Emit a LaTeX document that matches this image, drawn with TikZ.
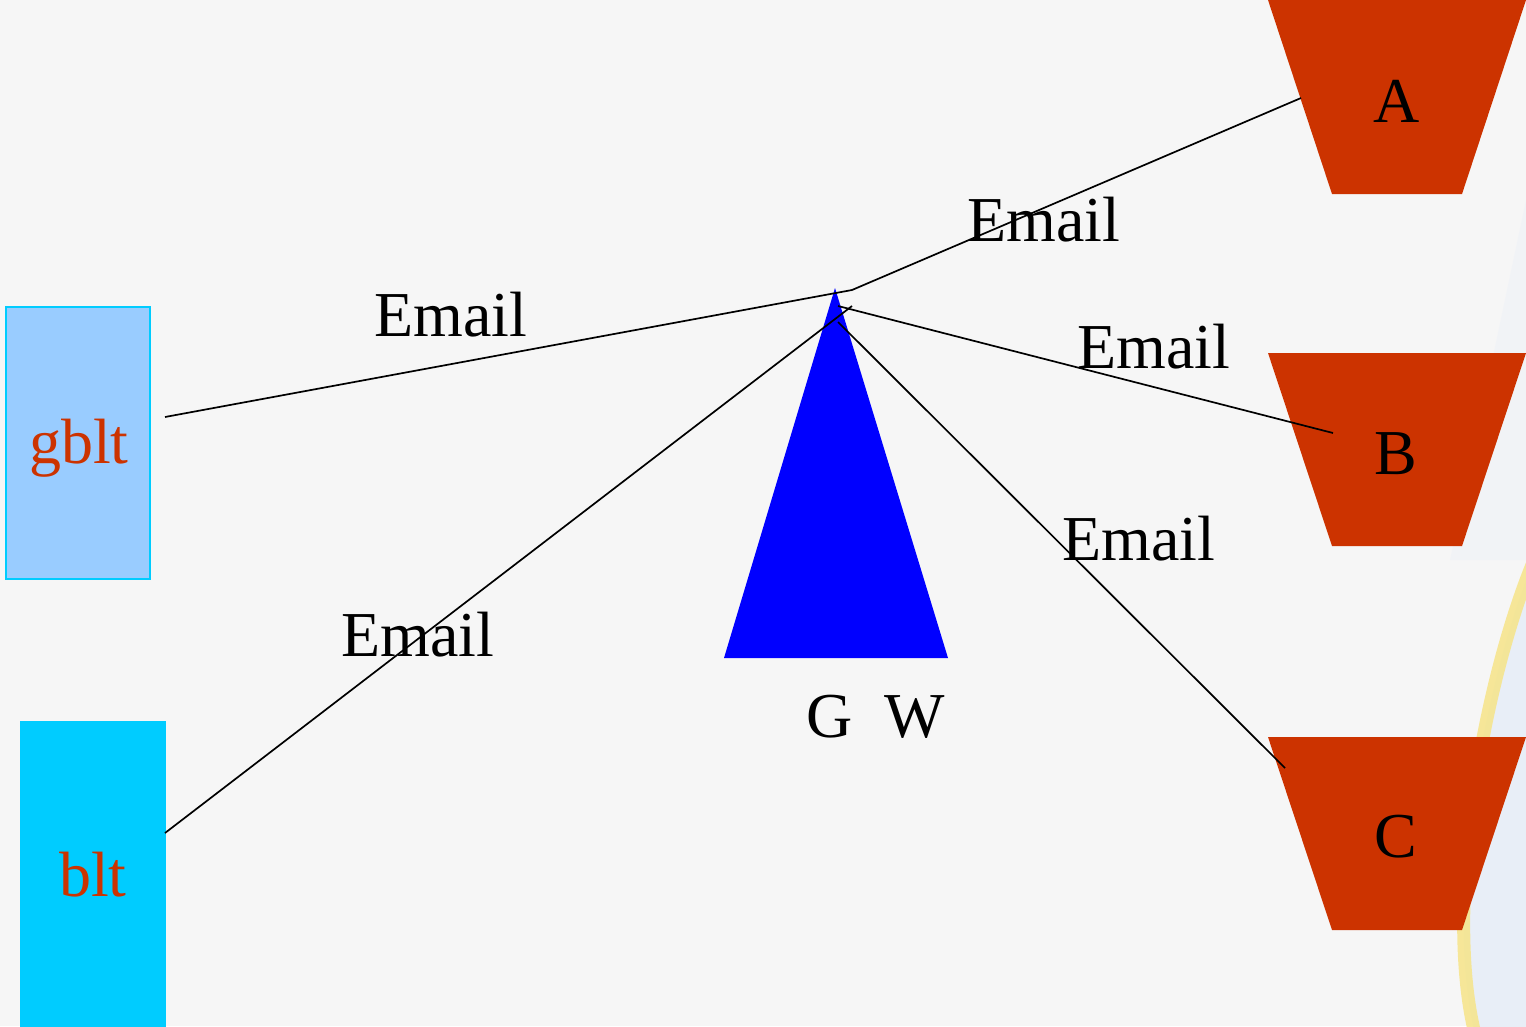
\documentclass[tikz,border=0pt]{standalone}
\usepackage{fontspec}
\setmainfont{Liberation Serif}
\definecolor{bgcol}{HTML}{F6F6F6}
\definecolor{trapcol}{HTML}{CC3300}
\definecolor{gbfill}{HTML}{99CCFF}
\definecolor{cyanbox}{HTML}{00CCFF}
\definecolor{arcyel}{HTML}{F6E488}
\definecolor{paleblue}{HTML}{E8EEF7}
\begin{document}
\begin{tikzpicture}[x=1pt,y=-1pt,
  lbl/.style={inner sep=0pt, anchor=base west, font=\fontsize{64}{76}\selectfont},
  lblc/.style={inner sep=0pt, anchor=base, font=\fontsize{64}{76}\selectfont},
  link/.style={draw=black, line width=1.7pt},
  trapshape/.style={fill=trapcol}]
\useasboundingbox (0,0) rectangle (1526,1026);
% background
\fill[bgcol] (0,0) rectangle (1526,1026);
\fill[paleblue, opacity=0.3] (1526,200) -- (1450,560) -- (1526,560) -- cycle;
\fill[paleblue] (1534,560) .. controls (1484,680) and (1444,900) .. (1474,1030) -- (1534,1030) -- cycle;
\draw[arcyel, line width=13pt, opacity=0.85] (1534,560) .. controls (1484,680) and (1444,900) .. (1474,1030);
% left boxes
\node[draw=cyanbox, fill=gbfill, line width=1.5pt, minimum width=144pt, minimum height=272pt, inner sep=0pt, anchor=north west] (gbox) at (5,306) {};
\node[lbl, text=trapcol] (gtext) at (29,463) {gblt};
\node[fill=cyanbox, minimum width=146pt, minimum height=310pt, inner sep=0pt, anchor=north west] (bbox) at (20,721) {};
\node[lbl, text=trapcol] (btext) at (59,896) {blt};
% triangle
\coordinate (apex) at (835,288);
\coordinate (tribr) at (948,658);
\coordinate (tribl) at (724,658);
\fill[blue] (apex) -- (tribr) -- (tribl) -- cycle;
\node[lbl] (gw) at (806,737) {G~~W};
% trapezoids
\fill[trapshape] (1268,0) -- (1526,0) -- (1462,194) -- (1332,194) -- cycle;
\fill[trapshape] (1268,353) -- (1526,353) -- (1462,546) -- (1332,546) -- cycle;
\fill[trapshape] (1268,737) -- (1526,737) -- (1462,930) -- (1332,930) -- cycle;
\node[lblc] (ta) at (1397,122) {A};
\node[lblc] (tb) at (1396,474) {B};
\node[lblc] (tc) at (1396,857) {C};
% connector ends
\coordinate (gS) at (165,417);
\coordinate (bS) at (165,833);
\coordinate (hub1) at (852,290);
\coordinate (hub2) at (852,306);
\coordinate (hub3) at (838,306);
\coordinate (hub4) at (838,322);
\coordinate (aE) at (1301,98);
\coordinate (bE) at (1333,433);
\coordinate (cE) at (1285,768);
\draw[link] (gS) -- (hub1) -- (aE);
\draw[link] (bS) -- (hub2);
\draw[link] (hub3) -- (bE);
\draw[link] (hub4) -- (cE);
% labels
\node[lbl] (e1) at (374,336) {Email};
\node[lbl] (e2) at (967,241) {Email};
\node[lbl] (e3) at (1077,368) {Email};
\node[lbl] (e4) at (1062,560) {Email};
\node[lbl] (e5) at (341,656) {Email};
\end{tikzpicture}
\end{document}
